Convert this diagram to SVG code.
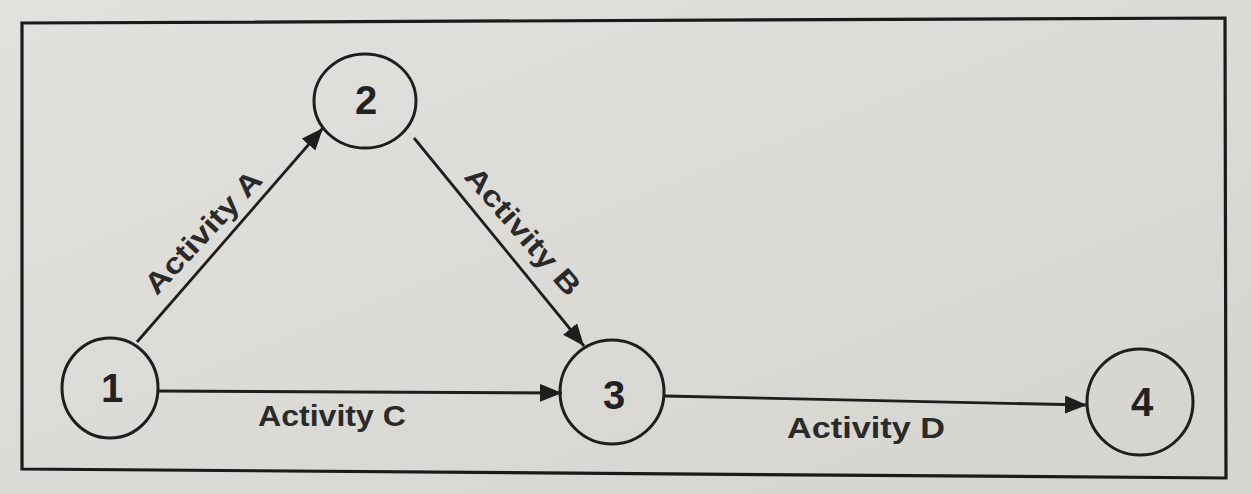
<svg xmlns="http://www.w3.org/2000/svg" width="1251" height="494" viewBox="0 0 1251 494">
<style>
.node{fill:none;stroke:#1e1e1e;stroke-width:3}
.num{font-family:"Liberation Sans",Arial,sans-serif;font-weight:bold;font-size:40px;fill:#222;text-anchor:middle;dominant-baseline:central}
.lbl{font-family:"Liberation Sans",Arial,sans-serif;font-weight:bold;font-size:29px;fill:#2a2a2a;text-anchor:middle;dominant-baseline:central}
.edge{stroke:#1e1e1e;stroke-width:2.8;fill:none}
</style>
<defs>
<marker id="ah" markerUnits="userSpaceOnUse" markerWidth="24" markerHeight="20" refX="22" refY="9" orient="auto">
<path d="M0,0 L22,9 L0,18 Z" fill="#1e1e1e"/>
</marker>
<linearGradient id="bg" x1="0" y1="0" x2="1" y2="1">
<stop offset="0" stop-color="#e2e1dd"/>
<stop offset="1" stop-color="#d6d4cf"/>
</linearGradient>
</defs>
<rect width="1251" height="494" fill="url(#bg)"/>
<path d="M22,23 L1225,18 L1226,478 L22,469 Z" fill="none" stroke="#1a1a1a" stroke-width="3.2"/>
<g id="connectors">
<line class="edge" x1="137" y1="342" x2="323" y2="128" marker-end="url(#ah)"/>
<line class="edge" x1="414" y1="138" x2="584" y2="346" marker-end="url(#ah)"/>
<line class="edge" x1="158" y1="391" x2="562" y2="393" marker-end="url(#ah)"/>
<line class="edge" x1="665" y1="396" x2="1087" y2="405" marker-end="url(#ah)"/>
<text class="lbl" transform="translate(203,232) rotate(-47)" textLength="157" lengthAdjust="spacingAndGlyphs">Activity A</text>
<text class="lbl" transform="translate(523,231) rotate(49)" textLength="160" lengthAdjust="spacingAndGlyphs">Activity B</text>
<text class="lbl" x="332" y="416" textLength="148" lengthAdjust="spacingAndGlyphs">Activity C</text>
<text class="lbl" x="866" y="428" textLength="158" lengthAdjust="spacingAndGlyphs">Activity D</text>
</g>
<g id="node1"><ellipse class="node" cx="110" cy="388" rx="48" ry="50"/><text class="num" x="112" y="388">1</text></g>
<g id="node2"><ellipse class="node" cx="365" cy="101" rx="51" ry="47"/><text class="num" x="366" y="100">2</text></g>
<g id="node3"><ellipse class="node" cx="612" cy="392" rx="52" ry="52"/><text class="num" x="614" y="395">3</text></g>
<g id="node4"><ellipse class="node" cx="1140" cy="402" rx="53" ry="53"/><text class="num" x="1142" y="402">4</text></g>
</svg>
